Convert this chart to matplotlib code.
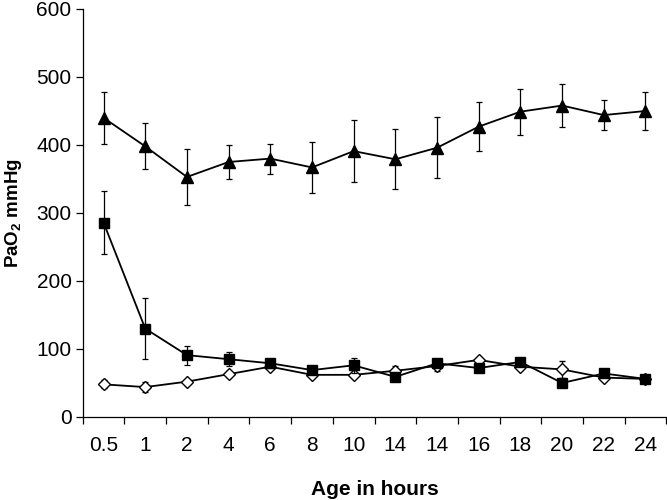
import numpy as np
import matplotlib
matplotlib.use("Agg")
import matplotlib.pyplot as plt

plt.rcParams['font.family'] = ['Liberation Sans', 'DejaVu Sans']
plt.rcParams['mathtext.fontset'] = 'custom'
plt.rcParams['mathtext.bf'] = 'Liberation Sans:bold'
plt.rcParams['mathtext.rm'] = 'Liberation Sans'

# ------- data -------
ages = ['0.5', '1', '2', '4', '6', '8', '10', '14', '14', '16', '18', '20', '22', '24']

tri_mean = [440, 398, 353, 375, 380, 367, 391, 379, 396, 427, 449, 458, 444, 450]
tri_sd = [38, 34, 41, 25, 22, 38, 46, 44, 45, 36, 34, 32, 22, 28]

sq_mean = [286, 130, 91, 85, 79, 69, 76, 59, 79, 72, 81, 50, 64, 56]
sq_sd = [47, 45, 14, 10, 7, 3, 11, 4, 4, 3, 3, 4, 3, 3]

dia_mean = [48, 44, 52, 63, 74, 62, 62, 68, 75, 84, 74, 70, 58, 56]
dia_sd = [6, 7, 3, 4, 3, 3, 3, 7, 8, 3, 3, 13, 3, 4]

# ------- figure -------
fig = plt.figure(figsize=(6.67, 5.0), dpi=100)
ax = fig.add_axes([0.124, 0.166, 0.875, 0.816])
x = np.arange(len(ages))

eb = dict(ecolor='black', elinewidth=0.9, capsize=2.5, capthick=0.9, color='black', lw=1.3)
ax.errorbar(x, dia_mean, yerr=dia_sd, fmt='-D', ms=6.5, mfc='white', mec='black', mew=1.0, zorder=2, **eb)
ax.errorbar(x, sq_mean, yerr=sq_sd, fmt='-s', ms=7, mfc='black', mec='black', zorder=3, **eb)
ax.errorbar(x, tri_mean, yerr=tri_sd, fmt='-^', ms=9, mfc='black', mec='black', zorder=4, **eb)

ax.set_xlim(-0.5, len(ages) - 0.5)
ax.set_ylim(0, 600)
ax.set_yticks(range(0, 601, 100))

# tick marks between categories, labels at centers
ax.set_xticks(np.arange(len(ages) + 1) - 0.5)
ax.set_xticklabels([])
ax.set_xticks(x, minor=True)
ax.set_xticklabels(ages, minor=True)
ax.tick_params(axis='x', which='major', direction='out', length=5, width=0.9)
ax.tick_params(axis='x', which='minor', length=0, pad=14, labelsize=15)
ax.tick_params(axis='y', direction='out', length=5, width=0.9, labelsize=15, pad=3)

ax.spines['top'].set_visible(False)
ax.spines['right'].set_visible(False)
ax.spines['left'].set_linewidth(0.9)
ax.spines['bottom'].set_linewidth(0.9)

ax.set_xlabel('Age in hours', fontsize=15, fontweight='bold', labelpad=18)
ax.set_ylabel('PaO$_\\mathbf{2}$ mmHg', fontsize=13.5, fontweight='bold', labelpad=9)

fig.savefig('out.png', dpi=100)
